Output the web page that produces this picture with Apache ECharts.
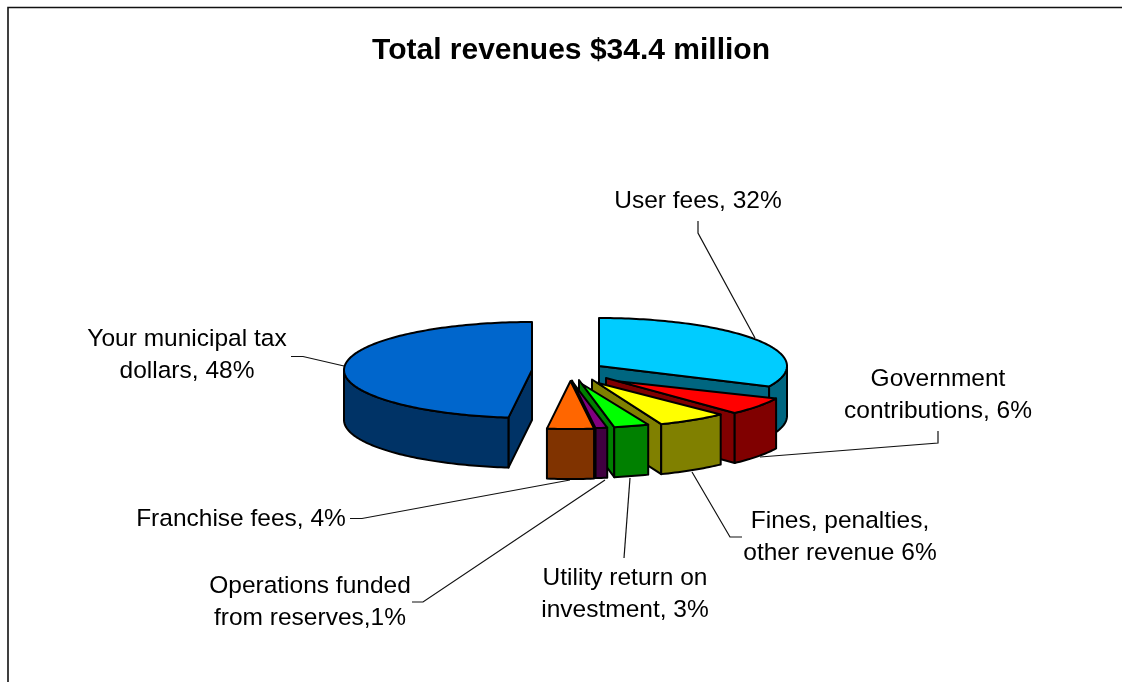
<!DOCTYPE html>
<html>
<head>
<meta charset="utf-8">
<style>html,body{margin:0;padding:0;background:#fff}#chart{width:1122px;height:682px}</style>
<script src="https://cdn.jsdelivr.net/npm/echarts@6/dist/echarts.min.js"></script>
</head>
<body>
<div id="chart"></div>
<script>
// Revenue shares in percent, clockwise from twelve o'clock.
const sources = ['User fees', 'Government contributions', 'Fines, penalties, other revenue',
  'Utility return on investment', 'Operations funded from reserves', 'Franchise fees', 'Your municipal tax dollars'];
const shares = [32, 6, 6, 3, 1, 4, 48];
const labels = ['User fees, 32%', 'Government\ncontributions, 6%', 'Fines, penalties,\nother revenue 6%',
  'Utility return on\ninvestment, 3%', 'Operations funded\nfrom reserves,1%', 'Franchise fees, 4%',
  'Your municipal tax\ndollars, 48%'];
const titleText = 'Total revenues $34.4 million';

// Slice colours: top face and side wall.
const topColors = ['#00CCFF', '#FF0000', '#FFFF00', '#00FF00', '#800080', '#FF6600', '#0066CC'];
const wallColors = ['#006680', '#800000', '#808000', '#008000', '#400040', '#803300', '#003366'];

// Pie layout in pixels: centre, radii, thickness, how far each slice is pulled out.
const CX = 572, CY = 370.5, RX = 188, RY = 48, DEPTH = 50;
const pullOut = [[27, -4.5], [34, 7.5], [20, 9], [7, 9.5], [0, 10], [-1.5, 10.5], [-40, -0.5]];
const topInset = [0, 12, 6, 5, 3, 0, 0];

// Label placement and leader lines.
const labelAt = [[698, 201], [938, 395], [840, 537], [625, 594], [310, 602], [241, 519], [187, 355]];
const leaders = [
  [[698, 221], [698, 233], [755, 338]],
  [[938, 431], [938, 443], [760, 457]],
  [[742, 537], [730, 537], [692, 472]],
  [[624, 558], [630, 478]],
  [[412, 602], [423, 602], [605, 480]],
  [[350, 518.5], [362, 518.5], [570, 480]],
  [[291, 356.5], [303, 356.5], [344, 366]]
];

const FONT = '"Liberation Sans", Arial, sans-serif';
const total = shares.reduce((a, b) => a + b, 0);
const toAngle = v => echarts.number.linearMap(v, [0, total], [0, 2 * Math.PI]);

function rimPoint(ax, ay, theta, drop) {
  return [ax + RX * Math.sin(theta), ay - RY * Math.cos(theta) + drop];
}

function arcPoints(ax, ay, from, to, drop) {
  const n = Math.max(2, Math.ceil((to - from) / 0.02));
  const pts = [];
  for (let i = 0; i <= n; i++) pts.push(rimPoint(ax, ay, from + (to - from) * i / n, drop));
  return pts;
}

function face(points, fill) {
  return {
    type: 'polygon',
    shape: { points: points },
    style: { fill: fill, stroke: '#000', lineWidth: 2, lineJoin: 'round' }
  };
}

function renderSlice(params, api) {
  const i = params.dataIndex;
  const before = shares.slice(0, i).reduce((a, b) => a + b, 0);
  const start = toAngle(before);
  const end = toAngle(before + api.value(0));
  const ax = CX + pullOut[i][0];
  const ay = CY + pullOut[i][1];
  const wall = wallColors[i];
  const children = [];

  // Radial walls show only when they turn toward the viewer.
  const rimEnd = rimPoint(ax, ay, end, 0);
  if (Math.sin(end) > 0) {
    children.push(face([[ax, ay], rimEnd, [rimEnd[0], rimEnd[1] + DEPTH], [ax, ay + DEPTH]], wall));
  }
  const rimStart = rimPoint(ax, ay, start, 0);
  if (Math.sin(start) < 0) {
    children.push(face([[ax, ay], rimStart, [rimStart[0], rimStart[1] + DEPTH], [ax, ay + DEPTH]], wall));
  }

  // Outer wall: the stretch of rim on the front half of the ellipse.
  const from = Math.max(start, Math.PI / 2);
  const to = Math.min(end, 3 * Math.PI / 2);
  if (to > from) {
    children.push(face(arcPoints(ax, ay, from, to, 0).concat(arcPoints(ax, ay, from, to, DEPTH).reverse()), wall));
  }

  // Top face, its tip set slightly back along the end wall.
  const len = Math.hypot(rimEnd[0] - ax, rimEnd[1] - ay);
  const t = topInset[i] / len;
  const tip = [ax + (rimEnd[0] - ax) * t, ay + (rimEnd[1] - ay) * t];
  children.push(face([tip].concat(arcPoints(ax, ay, start, end, 0)), topColors[i]));

  return { type: 'group', children: children };
}

const graphics = [
  { type: 'polyline', shape: { points: [[8, 682], [8, 7.5], [1122, 7.5]] },
    style: { fill: null, stroke: '#111', lineWidth: 1.6 } }
];
leaders.forEach(points => {
  graphics.push({ type: 'polyline', shape: { points: points },
    style: { fill: null, stroke: '#111', lineWidth: 1.2 } });
});
labels.forEach((text, i) => {
  graphics.push({ type: 'text', x: labelAt[i][0], y: labelAt[i][1],
    style: { text: text, fill: '#000', font: '24.5px ' + FONT, lineHeight: 32,
      align: 'center', verticalAlign: 'middle' } });
});

const chart = echarts.init(document.getElementById('chart'), null, { renderer: 'canvas' });
chart.setOption({
  animation: false,
  backgroundColor: '#fff',
  title: {
    text: titleText, left: 566, top: 31, textAlign: 'center',
    textStyle: { color: '#000', fontFamily: FONT, fontWeight: 'bold', fontSize: 30 }
  },
  series: [{
    type: 'custom',
    coordinateSystem: 'none',
    renderItem: renderSlice,
    data: shares.map((v, i) => ({ name: sources[i], value: [v] }))
  }],
  graphic: graphics
});
</script>
</body>
</html>
